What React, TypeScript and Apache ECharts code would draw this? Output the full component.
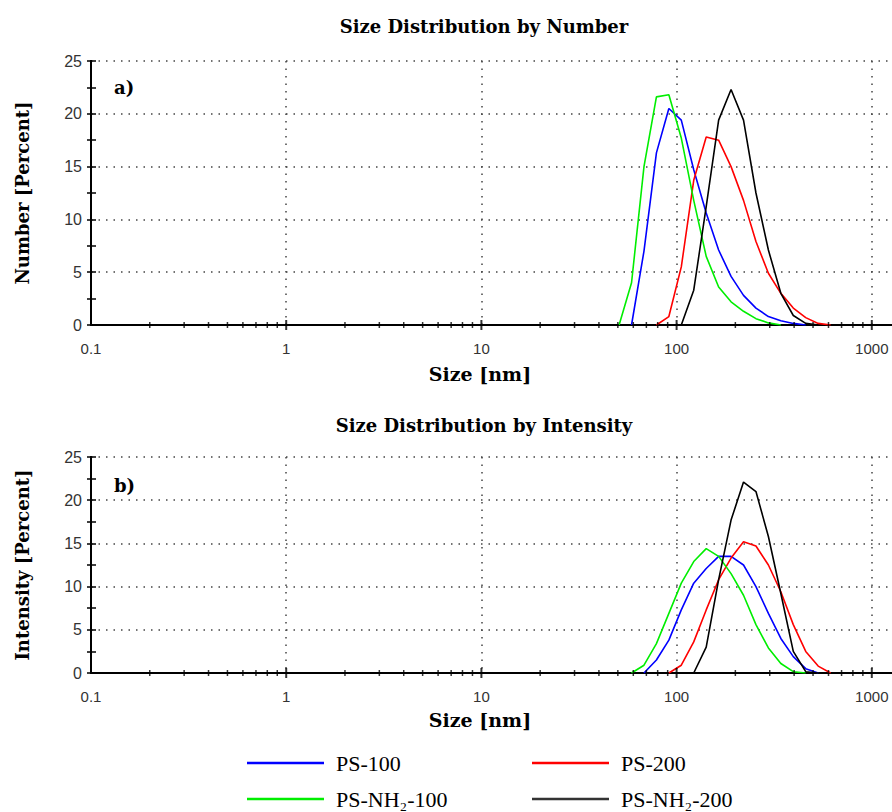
import React, { useEffect, useRef } from 'react';
import * as echarts from 'echarts';

// Zetasizer size bins (nm)
const sizeBins = [43.82, 50.75, 58.77, 68.06, 78.82, 91.28, 105.7, 122.4, 141.8, 164.2, 190.1, 220.2, 255.0, 295.3, 342.0, 396.1, 458.7, 531.2, 615.1, 712.4];

// a) Size distribution by number (%)
const numPS100 = [null, null, 0, 7.0, 16.3, 20.5, 19.4, 14.7, 10.6, 7.1, 4.6, 2.8, 1.6, 0.8, 0.4, 0.15, 0, null, null, null];
const numPS200 = [null, null, null, null, 0, 0.8, 5.5, 13.7, 17.8, 17.5, 15.0, 11.8, 7.9, 4.9, 3.0, 1.6, 0.7, 0.15, 0, null];
const numPSNH2100 = [null, 0, 4.0, 15.0, 21.6, 21.8, 17.7, 11.8, 6.5, 3.6, 2.2, 1.3, 0.6, 0.2, 0, null, null, null, null, null];
const numPSNH2200 = [null, null, null, null, null, null, 0, 3.3, 11.2, 19.4, 22.3, 19.4, 12.5, 7.1, 3.0, 0.9, 0.15, 0, null, null];

// b) Size distribution by intensity (%)
const intPS100 = [null, null, null, 0, 1.5, 3.8, 7.3, 10.4, 12.1, 13.5, 13.5, 12.5, 10.0, 6.9, 4.0, 1.9, 0.5, 0, null, null];
const intPS200 = [null, null, null, null, null, 0, 0.9, 3.6, 7.3, 10.8, 13.3, 15.2, 14.7, 12.5, 9.4, 5.6, 2.5, 0.8, 0, null];
const intPSNH2100 = [null, null, 0, 0.9, 3.4, 6.9, 10.4, 12.9, 14.4, 13.5, 11.5, 9.0, 5.6, 2.9, 1.1, 0.15, 0, null, null, null];
const intPSNH2200 = [null, null, null, null, null, null, null, 0, 3.0, 10.8, 17.7, 22.1, 21.0, 15.8, 9.2, 2.5, 0.15, 0, null, null];

const seriesNames = ['PS-100', 'PS-200', 'PS-NH₂-100', 'PS-NH₂-200'];
const seriesColors = ['#0000ff', '#ff0000', '#00ee00', '#000000'];

// axis tick marks (log scale)
const majorTicks = [1, 10, 100, 1000];
const minorTicks = [0.2, 0.3, 0.4, 0.5, 0.6, 0.7, 0.8, 0.9, 2, 3, 4, 5, 6, 7, 8, 9, 20, 30, 40, 50, 60, 70, 80, 90, 200, 300, 400, 500, 600, 700, 800, 900];

const serif = 'DejaVu Serif';
const sans = 'Liberation Sans, Arial, sans-serif';

function toPairs(vals: (number | null)[]) {
  const out: [number, number][] = [];
  vals.forEach((v, i) => {
    if (v !== null) out.push([sizeBins[i], v]);
  });
  return out;
}

const dotted = { color: '#444', type: [1.5, 6] as number[], width: 1.5 };

function xAxisFor(gi: number) {
  return {
    type: 'log',
    logBase: 10,
    gridIndex: gi,
    min: 0.1,
    max: 10000,
    axisLine: { show: true, lineStyle: { color: '#000', width: 2 } },
    axisTick: { show: false },
    axisLabel: {
      color: '#333',
      fontSize: 15,
      fontFamily: sans,
      margin: 16,
      formatter: (v: number) => (v >= 5000 ? '' : String(Number(v.toPrecision(6)))),
    },
    splitLine: { show: true, lineStyle: dotted },
  };
}

function yAxesFor(gi: number) {
  return [
    {
      type: 'value',
      gridIndex: gi,
      position: 'left',
      min: 0,
      max: 25,
      interval: 5,
      axisLine: { show: true, lineStyle: { color: '#000', width: 2 } },
      axisTick: { show: true, length: 4, lineStyle: { color: '#000', width: 1.5 } },
      minorTick: { show: true, splitNumber: 2, length: 4, lineStyle: { color: '#000', width: 1.5 } },
      axisLabel: { color: '#333', fontSize: 16, fontFamily: sans, margin: 9 },
      splitLine: { show: true, lineStyle: dotted },
    },
    {
      type: 'value',
      gridIndex: gi,
      position: 'left',
      min: 0,
      max: 25,
      interval: 5,
      axisLine: { show: true, lineStyle: { color: '#000', width: 2 } },
      axisTick: { show: true, inside: true, length: 5, lineStyle: { color: '#000', width: 1.5 } },
      minorTick: { show: true, splitNumber: 2, length: 5, lineStyle: { color: '#000', width: 1.5 } },
      axisLabel: { show: false },
      splitLine: { show: false },
    },
  ];
}

function lineSeries(name: string, color: string, vals: (number | null)[], gi: number) {
  return {
    type: 'line',
    name,
    xAxisIndex: gi,
    yAxisIndex: gi * 2,
    data: toPairs(vals),
    symbol: 'none',
    showSymbol: false,
    lineStyle: { color, width: 1.6 },
    itemStyle: { color },
    z: 3,
  };
}

function tickSeries(gi: number) {
  return [
    {
      type: 'scatter',
      name: '_minor' + gi,
      xAxisIndex: gi,
      yAxisIndex: gi * 2,
      data: minorTicks.map((v) => [v, 0]),
      symbol: 'rect',
      symbolSize: [1.5, 6],
      itemStyle: { color: '#000' },
      silent: true,
      clip: false,
      z: 4,
    },
    {
      type: 'scatter',
      name: '_major' + gi,
      xAxisIndex: gi,
      yAxisIndex: gi * 2,
      data: majorTicks.map((v) => [v, 0]),
      symbol: 'rect',
      symbolSize: [2, 10],
      itemStyle: { color: '#000' },
      silent: true,
      clip: false,
      z: 4,
    },
  ];
}

function txt(text: string, x: number, y: number, size: number, opts: any = {}) {
  return {
    type: 'text',
    x,
    y,
    rotation: opts.rotation || 0,
    style: {
      text,
      fill: '#000',
      fontFamily: serif,
      fontWeight: 'bold',
      fontSize: size,
      textAlign: opts.align || 'center',
      align: opts.align || 'center',
      textVerticalAlign: 'middle',
      verticalAlign: 'middle',
    },
  };
}

function legendFor(name: string, color: string, left: number, top: number) {
  return {
    data: [{ name, icon: 'rect', itemStyle: { color } }],
    left,
    top,
    padding: 0,
    itemWidth: 77,
    itemHeight: 2.5,
    selectedMode: false,
    textStyle: { fontFamily: 'Liberation Serif', fontSize: 22, color: '#000', padding: [0, 0, 0, 7] },
  };
}

export default function App() {
  const ref = useRef<HTMLDivElement>(null);
  useEffect(() => {
    const chart = echarts.init(ref.current!, null, { renderer: 'svg' });
    const numVals = [numPS100, numPS200, numPSNH2100, numPSNH2200];
    const intVals = [intPS100, intPS200, intPSNH2100, intPSNH2200];
    chart.setOption({
      animation: false,
      backgroundColor: '#fff',
      grid: [
        { left: 91, top: 61, width: 976, height: 264, outerBoundsMode: 'none', containLabel: false },
        { left: 91, top: 457, width: 976, height: 216, outerBoundsMode: 'none', containLabel: false },
      ],
      xAxis: [xAxisFor(0), xAxisFor(1)],
      yAxis: [...yAxesFor(0), ...yAxesFor(1)],
      legend: [
        legendFor(seriesNames[0], seriesColors[0], 247, 752),
        legendFor(seriesNames[1], seriesColors[1], 532, 752),
        legendFor(seriesNames[2], seriesColors[2], 247, 788),
        legendFor(seriesNames[3], '#333', 532, 788),
      ],
      graphic: [
        txt('Size Distribution by Number', 484, 26, 18),
        txt('Size Distribution by Intensity', 484, 425, 18),
        txt('Size [nm]', 480, 374, 19),
        txt('Size [nm]', 480, 720, 19),
        txt('Number [Percent]', 22, 193, 18, { rotation: Math.PI / 2 }),
        txt('Intensity [Percent]', 22, 565, 18, { rotation: Math.PI / 2 }),
        txt('a)', 114, 87, 18, { align: 'left' }),
        txt('b)', 114, 485, 18, { align: 'left' }),
      ],
      series: [
        ...seriesNames.map((n, i) => lineSeries(n, seriesColors[i], numVals[i], 0)),
        ...seriesNames.map((n, i) => lineSeries(n, seriesColors[i], intVals[i], 1)),
        ...tickSeries(0),
        ...tickSeries(1),
      ],
    });
    return () => chart.dispose();
  }, []);
  return (
    <div
      ref={ref}
      style={{ position: 'absolute', left: 0, top: 0, width: 892, height: 812, background: '#fff' }}
    />
  );
}
